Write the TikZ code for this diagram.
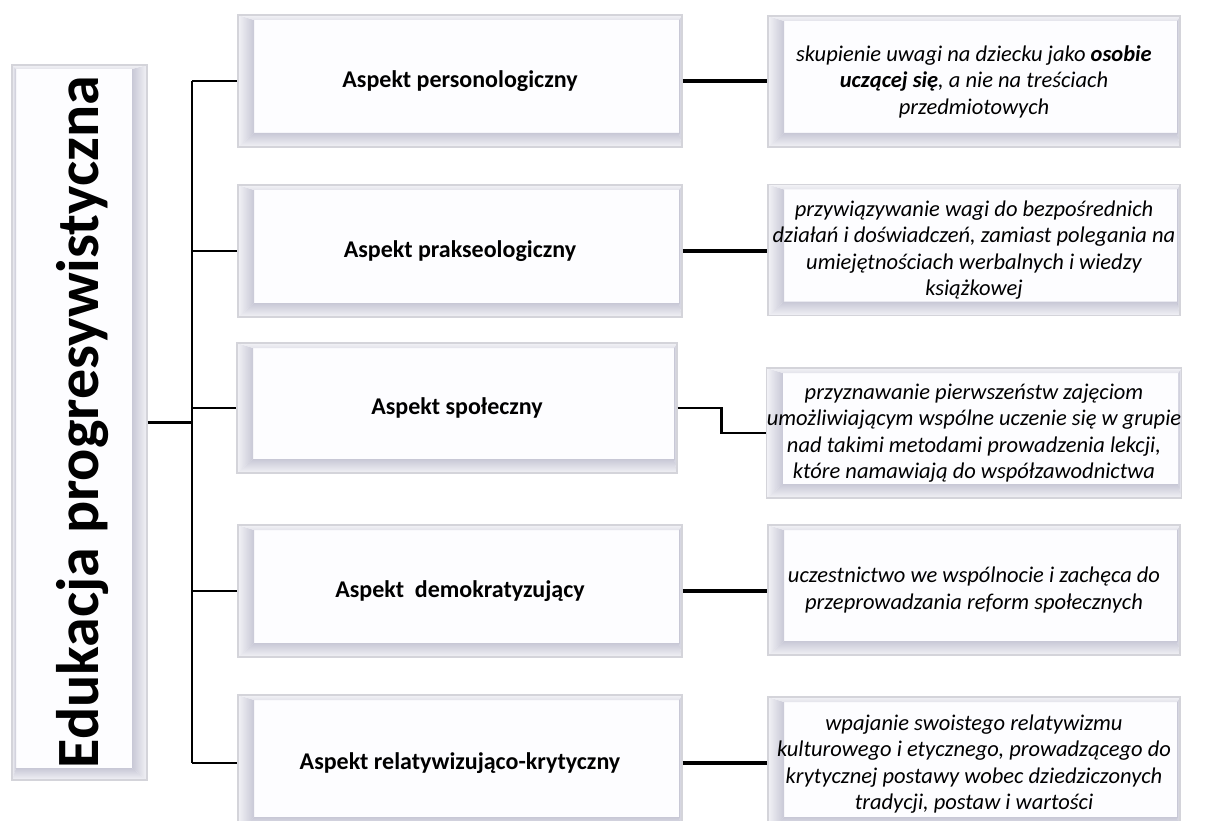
\documentclass[tikz,border=0pt]{standalone}
\usepackage{fontspec}
\setmainfont{Carlito}
\usetikzlibrary{calc}
\definecolor{frame}{HTML}{D4D4DA}
\definecolor{inner}{HTML}{FDFDFF}
\definecolor{banddark}{HTML}{C8C8D6}
\definecolor{bandlight}{HTML}{F2F2F6}
\tikzset{
  bevel/.style n args={4}{rectangle, draw=frame, line width=1.2pt, fill=inner, inner sep=0pt, align=center,
    path picture={
      \path (path picture bounding box.north west) coordinate (pNW)
            (path picture bounding box.north east) coordinate (pNE)
            (path picture bounding box.south west) coordinate (pSW)
            (path picture bounding box.south east) coordinate (pSE);
      \path ($(pNW)+(#1pt,-#2pt)$) coordinate (iNW)
            ($(pNE)+(-#3pt,-#2pt)$) coordinate (iNE)
            ($(pSW)+(#1pt,#4pt)$) coordinate (iSW)
            ($(pSE)+(-#3pt,#4pt)$) coordinate (iSE);
      \shade[left color=bandlight, right color=banddark] (pNW) -- (iNW) -- (iSW) -- (pSW) -- cycle;
      \shade[top color=banddark, bottom color=bandlight] (pSW) -- (iSW) -- (iSE) -- (pSE) -- cycle;
      \shade[left color=banddark, right color=bandlight] (pSE) -- (iSE) -- (iNE) -- (pNE) -- cycle;
      \shade[top color=bandlight, bottom color=banddark!50!white] (pNE) -- (iNE) -- (iNW) -- (pNW) -- cycle;
    }},
  midbox/.style={bevel={16}{5}{3}{14}, font=\fontsize{24}{28}\selectfont\bfseries},
  descbox/.style={bevel={16}{5}{3}{14}, font=\fontsize{22.5}{26.5}\selectfont\itshape, minimum width=412pt, minimum height=131pt},
  titlebox/.style={bevel={4}{4}{15}{12}},
  titletext/.style={rotate=90, anchor=base, font=\fontsize{60}{66}\selectfont\bfseries},
  thinline/.style={line width=2.6pt},
  thickline/.style={line width=4pt}
}
\begin{document}
\begin{tikzpicture}[x=1pt, y=-1pt]
\useasboundingbox[fill=white] (0,0) rectangle (1218,821);
% title
\node[titlebox, minimum width=135pt, minimum height=715pt] (title) at (79.5,422.5) {};
\node[titletext] (titlelabel) at (98,422) {Edukacja progresywistyczna};
% middle boxes
\node[midbox, minimum width=444pt, minimum height=132pt] (b1) at (460,81) {Aspekt personologiczny};
\node[midbox, minimum width=444pt, minimum height=132pt] (b2) at (460,251) {Aspekt prakseologiczny};
\node[midbox, minimum width=440pt, minimum height=130pt] (b3) at (457,408) {Aspekt społeczny};
\node[midbox, minimum width=444pt, minimum height=132pt] (b4) at (460,591) {Aspekt~~demokratyzujący};
\node[midbox, minimum width=444pt, minimum height=136pt] (b5) at (460,763) {Aspekt relatywizująco-krytyczny};
% description boxes
\node[descbox] (r1) at (974,81.5) {skupienie uwagi na dziecku jako \textbf{osobie}\\ \textbf{uczącej się}, a nie na treściach\\ przedmiotowych};
\node[descbox] (r2) at (974,250) {przywiązywanie wagi do bezpośrednich\\ działań i doświadczeń, zamiast polegania na\\ umiejętnościach werbalnych i wiedzy\\ książkowej};
\node[descbox, minimum height=130pt] (r3) at (974,433) {przyznawanie pierwszeństw zajęciom\\ umożliwiającym wspólne uczenie się w grupie\\ nad takimi metodami prowadzenia lekcji,\\ które namawiają do współzawodnictwa};
\node[descbox, minimum height=130pt] (r4) at (974,590) {uczestnictwo we wspólnocie i zachęca do\\ przeprowadzania reform społecznych};
\node[descbox, minimum height=134pt] (r5) at (974,764) {wpajanie swoistego relatywizmu\\ kulturowego i etycznego, prowadzącego do\\ krytycznej postawy wobec dziedziczonych\\ tradycji, postaw i wartości};
% bracket
\coordinate (j) at (192,422.5);
\draw[thinline] (title.east) -- (j);
\draw[thinline] (j |- b1.west) -- (j |- b5.west);
\foreach \b in {b1,b2,b3,b4,b5} \draw[thinline] (j |- \b.west) -- (\b.west);
% right connectors
\draw[thickline] (b1.east) -- (b1.east -| r1.west);
\draw[thickline] (b2.east) -- (b2.east -| r2.west);
\draw[thinline] (b3.east) -- ++(44,0) |- (r3.west);
\draw[thickline] (b4.east) -- (b4.east -| r4.west);
\draw[thickline] (b5.east) -- (b5.east -| r5.west);
\end{tikzpicture}
\end{document}
